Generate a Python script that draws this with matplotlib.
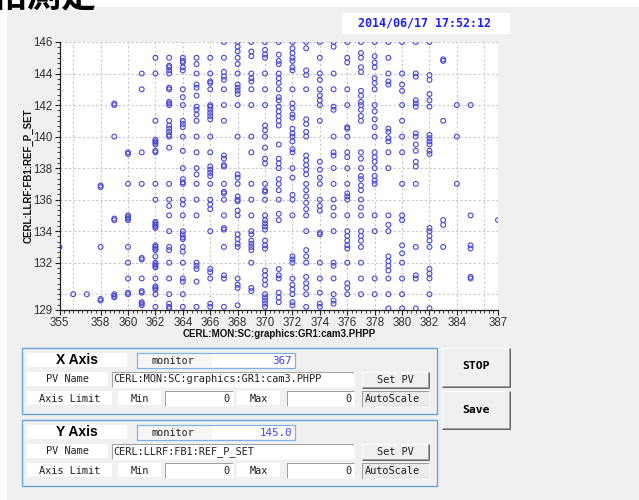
import numpy as np
import matplotlib.pyplot as plt
import matplotlib.ticker as mticker
from matplotlib.patches import Rectangle

# PHPP readings (x) against REF_P_SET (y), one list of y values per PHPP bin
x_bins = list(range(355, 388))
y_355 = [133.0]
y_356 = [130.0]
y_357 = [130.0]
y_358 = [136.9, 136.8, 133.0, 129.7, 129.6]
y_359 = [142.1, 142.0, 140.0, 134.8, 134.7, 130.0, 129.9, 129.8]
y_360 = [139.0, 138.9, 137.0, 135.0, 134.9, 134.8, 134.7, 133.0, 132.0, 131.0, 130.1, 130.0]
y_361 = [144.0, 143.0, 139.0, 137.0, 132.3, 132.2, 131.0, 130.2, 130.1, 129.5, 129.4, 129.3]
y_362 = [145.0, 144.0, 141.0, 139.8, 139.7, 139.6, 139.5, 139.1, 139.0, 137.0, 136.0, 134.6,
         134.5, 134.4, 134.3, 134.2, 133.1, 133.0, 132.9, 132.8, 132.4, 132.0, 131.9, 131.8,
         131.7, 131.0, 130.5, 130.4, 130.3, 130.0, 129.2]
y_363 = [145.0, 144.5, 144.4, 144.2, 144.0, 143.1, 143.0, 142.2, 142.1, 142.0, 141.0, 140.7,
         140.5, 140.3, 140.1, 140.0, 139.3, 137.0, 136.0, 135.6, 135.0, 134.0, 133.0, 132.8,
         132.0, 131.0, 130.0, 129.4, 129.2, 129.1]
y_364 = [145.0, 144.8, 144.7, 144.4, 144.2, 143.0, 142.5, 142.0, 141.0, 140.8, 140.6, 140.0,
         139.1, 138.0, 137.3, 137.1, 137.0, 136.0, 135.7, 135.0, 134.0, 133.8, 133.6, 133.5,
         133.0, 132.7, 132.0, 131.0, 130.8, 130.0, 129.2]
y_365 = [145.0, 144.6, 144.0, 143.3, 143.1, 142.6, 141.9, 141.7, 141.4, 141.0, 140.0, 139.0,
         138.0, 137.6, 137.0, 136.0, 135.0, 132.0, 131.8, 131.6, 130.8, 129.2]
y_366 = [145.0, 144.0, 143.5, 143.4, 143.0, 142.0, 141.9, 141.7, 141.5, 141.3, 141.1, 140.0,
         139.0, 138.1, 137.9, 137.7, 137.5, 137.0, 136.0, 135.7, 135.4, 134.0, 131.6, 131.4,
         131.0, 129.4, 129.2]
y_367 = [146.0, 145.0, 144.1, 143.8, 143.6, 143.0, 142.0, 141.0, 138.8, 138.6, 138.2, 138.1,
         137.0, 136.5, 136.4, 136.0, 135.0, 134.2, 134.1, 133.0, 131.2, 131.0, 129.2]
y_368 = [146.0, 145.7, 145.4, 145.0, 144.6, 144.0, 143.3, 143.1, 142.9, 142.7, 142.0, 140.0,
         137.6, 137.4, 137.0, 136.2, 136.0, 135.9, 135.3, 135.0, 133.8, 133.5, 133.2, 133.0,
         131.0, 130.6, 130.4, 129.3]
y_369 = [146.0, 145.4, 145.1, 144.0, 143.7, 143.5, 143.0, 142.0, 140.0, 139.0, 137.0, 136.0,
         135.0, 134.0, 133.8, 133.4, 133.2, 133.0, 132.8, 132.0, 130.4, 130.2]
y_370 = [146.0, 145.5, 145.2, 145.0, 144.0, 143.0, 142.0, 140.7, 140.4, 140.0, 139.3, 138.6,
         138.3, 137.0, 136.6, 136.5, 136.0, 135.0, 134.7, 134.5, 134.3, 134.1, 133.4, 133.1,
         132.9, 131.5, 131.2, 130.9, 130.6, 130.0, 129.8, 129.6, 129.4, 129.2]
y_371 = [146.0, 145.2, 144.8, 144.6, 144.0, 143.7, 143.4, 143.0, 142.5, 142.3, 141.9, 141.6,
         141.3, 141.0, 140.7, 139.5, 138.6, 138.3, 138.0, 137.3, 137.0, 136.6, 136.0, 135.1,
         134.7, 131.6, 131.2, 131.0, 130.1, 129.8, 129.5]
y_372 = [146.0, 145.6, 145.3, 145.0, 144.8, 144.4, 144.2, 143.0, 142.1, 141.8, 141.4, 141.2,
         140.5, 140.2, 140.0, 139.7, 139.2, 139.0, 138.0, 137.4, 136.3, 136.0, 135.0, 132.4,
         132.2, 132.0, 131.0, 130.6, 130.3, 130.0, 129.5, 129.3]
y_373 = [146.0, 145.6, 144.2, 143.9, 143.0, 141.1, 140.8, 140.3, 140.0, 138.8, 138.5, 138.2,
         137.9, 137.6, 137.0, 136.6, 136.2, 135.8, 135.4, 135.0, 134.0, 132.8, 132.4, 132.0,
         131.1, 130.7, 130.4, 130.0, 129.2]
y_374 = [146.0, 145.0, 144.0, 143.6, 143.0, 142.6, 142.3, 142.0, 141.0, 138.4, 137.9, 137.4,
         137.0, 136.0, 135.6, 135.3, 133.9, 133.8, 132.0, 131.0, 130.1, 129.4, 129.2]
y_375 = [146.0, 145.7, 144.0, 143.0, 141.9, 141.7, 140.0, 139.0, 138.8, 138.0, 137.0, 136.0,
         135.5, 135.0, 134.0, 132.0, 131.8, 131.0, 130.0, 129.6, 129.4]
y_376 = [146.0, 145.0, 144.7, 143.0, 142.0, 140.6, 140.5, 140.0, 139.0, 138.7, 138.0, 137.0,
         136.4, 136.2, 136.0, 135.0, 134.0, 133.7, 133.4, 133.1, 132.9, 132.0, 130.7, 130.4,
         130.0]
y_377 = [146.0, 145.3, 145.0, 144.4, 144.1, 142.9, 142.6, 142.2, 142.0, 141.7, 141.3, 141.0,
         139.0, 138.6, 138.0, 137.5, 137.3, 136.9, 136.6, 136.0, 135.5, 135.0, 134.0, 133.7,
         133.4, 133.0, 132.0, 131.0, 130.0]
y_378 = [146.0, 145.1, 144.7, 144.4, 143.7, 143.4, 143.0, 142.0, 141.6, 141.1, 140.6, 140.0,
         139.0, 138.7, 138.4, 138.0, 137.5, 137.2, 137.0, 135.0, 134.0, 131.0, 130.0]
y_379 = [146.0, 145.0, 144.0, 143.5, 143.3, 140.5, 140.3, 139.9, 139.7, 139.0, 138.0, 135.0,
         134.4, 134.0, 132.4, 132.1, 131.8, 131.5, 131.0, 130.0, 129.1]
y_380 = [146.0, 144.0, 143.3, 142.9, 142.0, 141.0, 140.0, 139.0, 137.0, 135.0, 134.7, 133.1,
         132.6, 132.0, 131.0, 130.0, 129.1]
y_381 = [146.0, 144.0, 143.8, 142.3, 142.1, 141.9, 140.2, 140.0, 139.5, 139.1, 138.4, 138.1,
         137.0, 133.0, 131.2, 131.0, 129.1]
y_382 = [146.0, 143.9, 143.6, 142.7, 142.3, 141.9, 140.1, 139.9, 139.7, 139.5, 139.1, 138.9,
         134.2, 134.0, 133.7, 133.4, 133.0, 131.6, 131.3, 131.0, 130.0, 129.1]
y_383 = [144.9, 144.8, 141.0, 134.7, 134.4, 133.0]
y_384 = [142.0, 140.0, 137.0]
y_385 = [142.0, 135.0, 133.1, 132.9, 131.1, 131.0]
y_386 = []
y_387 = [134.7]

y_bins = [y_355, y_356, y_357, y_358, y_359, y_360, y_361, y_362, y_363, y_364, y_365,
          y_366, y_367, y_368, y_369, y_370, y_371, y_372, y_373, y_374, y_375, y_376,
          y_377, y_378, y_379, y_380, y_381, y_382, y_383, y_384, y_385, y_386, y_387]

x_ticks = [355, 358, 360, 362, 364, 366, 368, 370, 372, 374, 376, 378, 380, 382, 384, 387]
y_ticks = [129, 132, 134, 136, 138, 140, 142, 144, 146]

x_pv = 'CERL:MON:SC:graphics:GR1:cam3.PHPP'
y_pv = 'CERL:LLRF:FB1:REF_P_SET'
x_monitor = '367'
y_monitor = '145.0'
stamp = '2014/06/17 17:52:12'

W, H = 639, 500
PANEL = '#f0f0f0'
GROUP = '#62a0e2'
MONO = 'DejaVu Sans Mono'
SANS = 'Liberation Sans'

fig = plt.figure(figsize=(W / 100, H / 100), dpi=100)
fig.patch.set_facecolor('white')

# window widgets, drawn in pixel coordinates (y down)
gui = fig.add_axes([0, 0, 1, 1])
gui.set_xlim(0, W)
gui.set_ylim(H, 0)
gui.axis('off')

PX = 0.72  # one pixel in points


def rect(x0, y0, x1, y1, fc='none', ec='none', lw=1.0, z=1):
    gui.add_patch(Rectangle((x0, y0), x1 - x0, y1 - y0, fc=fc, ec=ec,
                            lw=lw * PX, zorder=z))


def edge(xs, ys, color, z=3):
    gui.plot(xs, ys, color=color, lw=PX, solid_capstyle='butt', zorder=z)


def raised(x0, y0, x1, y1):
    rect(x0, y0, x1, y1, fc=PANEL, z=2)
    edge([x0, x0, x1], [y1, y0, y0], 'white')
    edge([x0, x1 - 1, x1 - 1], [y1 - 1, y1 - 1, y0], '#a0a0a0')
    edge([x0, x1, x1], [y1, y1, y0], '#696969')


def sunken(x0, y0, x1, y1, fc='white'):
    rect(x0, y0, x1, y1, fc=fc, z=2)
    edge([x0, x0, x1], [y1, y0, y0], '#a0a0a0')
    edge([x0, x1, x1], [y1, y1, y0], '#f8f8f8')


def label(x, y, s, ha='center', size=7.4, color='#202020', weight='normal', family=MONO):
    gui.text(x, y, s, ha=ha, va='center', fontsize=size, color=color,
             fontweight=weight, family=family, zorder=5)


rect(7, 7, W, H, fc=PANEL, z=0)
gui.text(97, 14, '位相測定', ha='right', va='bottom', fontsize=25, fontweight='bold',
         family=['Noto Sans CJK JP', 'DejaVu Sans'], color='black', zorder=5)

# time stamp
rect(342, 13, 510, 34, fc='white', z=1)
label(425, 23.5, stamp, size=8.4, color='#1e1eff', weight='bold')

# axis setting groups
for dy, name, pv, mon in [(0, 'X Axis', x_pv, x_monitor), (72, 'Y Axis', y_pv, y_monitor)]:
    rect(22, 348 + dy, 437, 414 + dy, ec=GROUP, lw=1.3, z=1)
    rect(27, 353 + dy, 127, 367 + dy, fc='white')
    label(77, 360.5 + dy, name, size=10, color='black', weight='bold', family=SANS)

    rect(137, 353 + dy, 295, 368 + dy, fc='#f6f6f6', ec='#7ab2ec', lw=1.2, z=2)
    rect(212, 354 + dy, 294, 367 + dy, fc='white', z=2)
    label(173, 361 + dy, 'monitor')
    label(292, 361 + dy, mon, ha='right', color='#3c3cff', size=7.8)

    rect(27, 372 + dy, 108, 386 + dy, fc='white')
    label(67, 379.5 + dy, 'PV Name')
    sunken(112, 372 + dy, 354, 387 + dy)
    gui.text(113.5, 379.5 + dy, pv, ha='left', va='center', fontsize=7.4, family=MONO,
             color='#202020', zorder=5, clip_on=True)
    raised(362, 372 + dy, 429, 388 + dy)
    label(395.5, 380 + dy, 'Set PV')

    rect(27, 391 + dy, 112, 405 + dy, fc='white')
    label(69.5, 398.5 + dy, 'Axis Limit')
    rect(118, 391 + dy, 161, 405 + dy, fc='white')
    label(139.5, 398.5 + dy, 'Min')
    sunken(165, 391 + dy, 233, 406 + dy)
    label(230, 398.5 + dy, '0', ha='right')
    rect(237, 391 + dy, 280, 405 + dy, fc='white')
    label(258.5, 398.5 + dy, 'Max')
    sunken(287, 391 + dy, 354, 406 + dy)
    label(351, 398.5 + dy, '0', ha='right')
    sunken(362, 391 + dy, 429, 407 + dy, fc='#ececec')
    label(365, 399 + dy, 'AutoScale', ha='left')

raised(442, 348, 510, 387)
label(476, 366, 'STOP', size=8.2, color='black', weight='bold')
raised(442, 391, 510, 429)
label(476, 410, 'Save', size=8.2, color='black', weight='bold')

# scatter plot
left, right, top, bottom = 59.5, 498, 42, 310
ax = fig.add_axes([left / W, 1 - bottom / H, (right - left) / W, (bottom - top) / H])
ax.set_facecolor('white')

xs = np.concatenate([[x] * len(ys) for x, ys in zip(x_bins, y_bins)])
ys = np.concatenate([np.asarray(v, dtype=float) for v in y_bins])
ax.scatter(xs, ys, s=12, facecolors='none', edgecolors='#4848d4', linewidths=0.8, zorder=3)

ax.set_xlim(355, 387)
ax.set_ylim(129, 146)

for gx in list(np.arange(356, 387, 2)) + [387]:
    ax.axvline(gx, color='#c8c8c8', lw=0.8, ls=(0, (2, 2)), zorder=1)
for gy in np.arange(130, 147, 2):
    ax.axhline(gy, color='#c8c8c8', lw=0.8, ls=(0, (2, 2)), zorder=1)

ax.xaxis.set_major_locator(mticker.FixedLocator(x_ticks))
ax.yaxis.set_major_locator(mticker.FixedLocator(y_ticks))
ax.xaxis.set_minor_locator(mticker.MultipleLocator(1 / 3))
ax.yaxis.set_minor_locator(mticker.MultipleLocator(1 / 3))
ax.tick_params(which='major', direction='out', length=3.6, width=0.8, pad=1.5,
               labelsize=8.3, labelcolor='#303030', color='#202020')
ax.tick_params(which='minor', direction='out', length=2.0, width=0.6, color='#202020')
for t in ax.get_xticklabels() + ax.get_yticklabels():
    t.set_family(SANS)

for side in ['top', 'right']:
    ax.spines[side].set_visible(False)
for side in ['left', 'bottom']:
    ax.spines[side].set_color('#202020')
    ax.spines[side].set_linewidth(0.9)

gui.text(279, 334, x_pv, ha='center', va='center', fontsize=7, fontweight='bold',
         family=SANS, color='#111111', zorder=5)
gui.text(29, 176, y_pv, ha='center', va='center', rotation=90, fontsize=7,
         fontweight='bold', family=SANS, color='#111111', zorder=5)

fig.savefig('out.png', dpi=100, facecolor=fig.get_facecolor())
